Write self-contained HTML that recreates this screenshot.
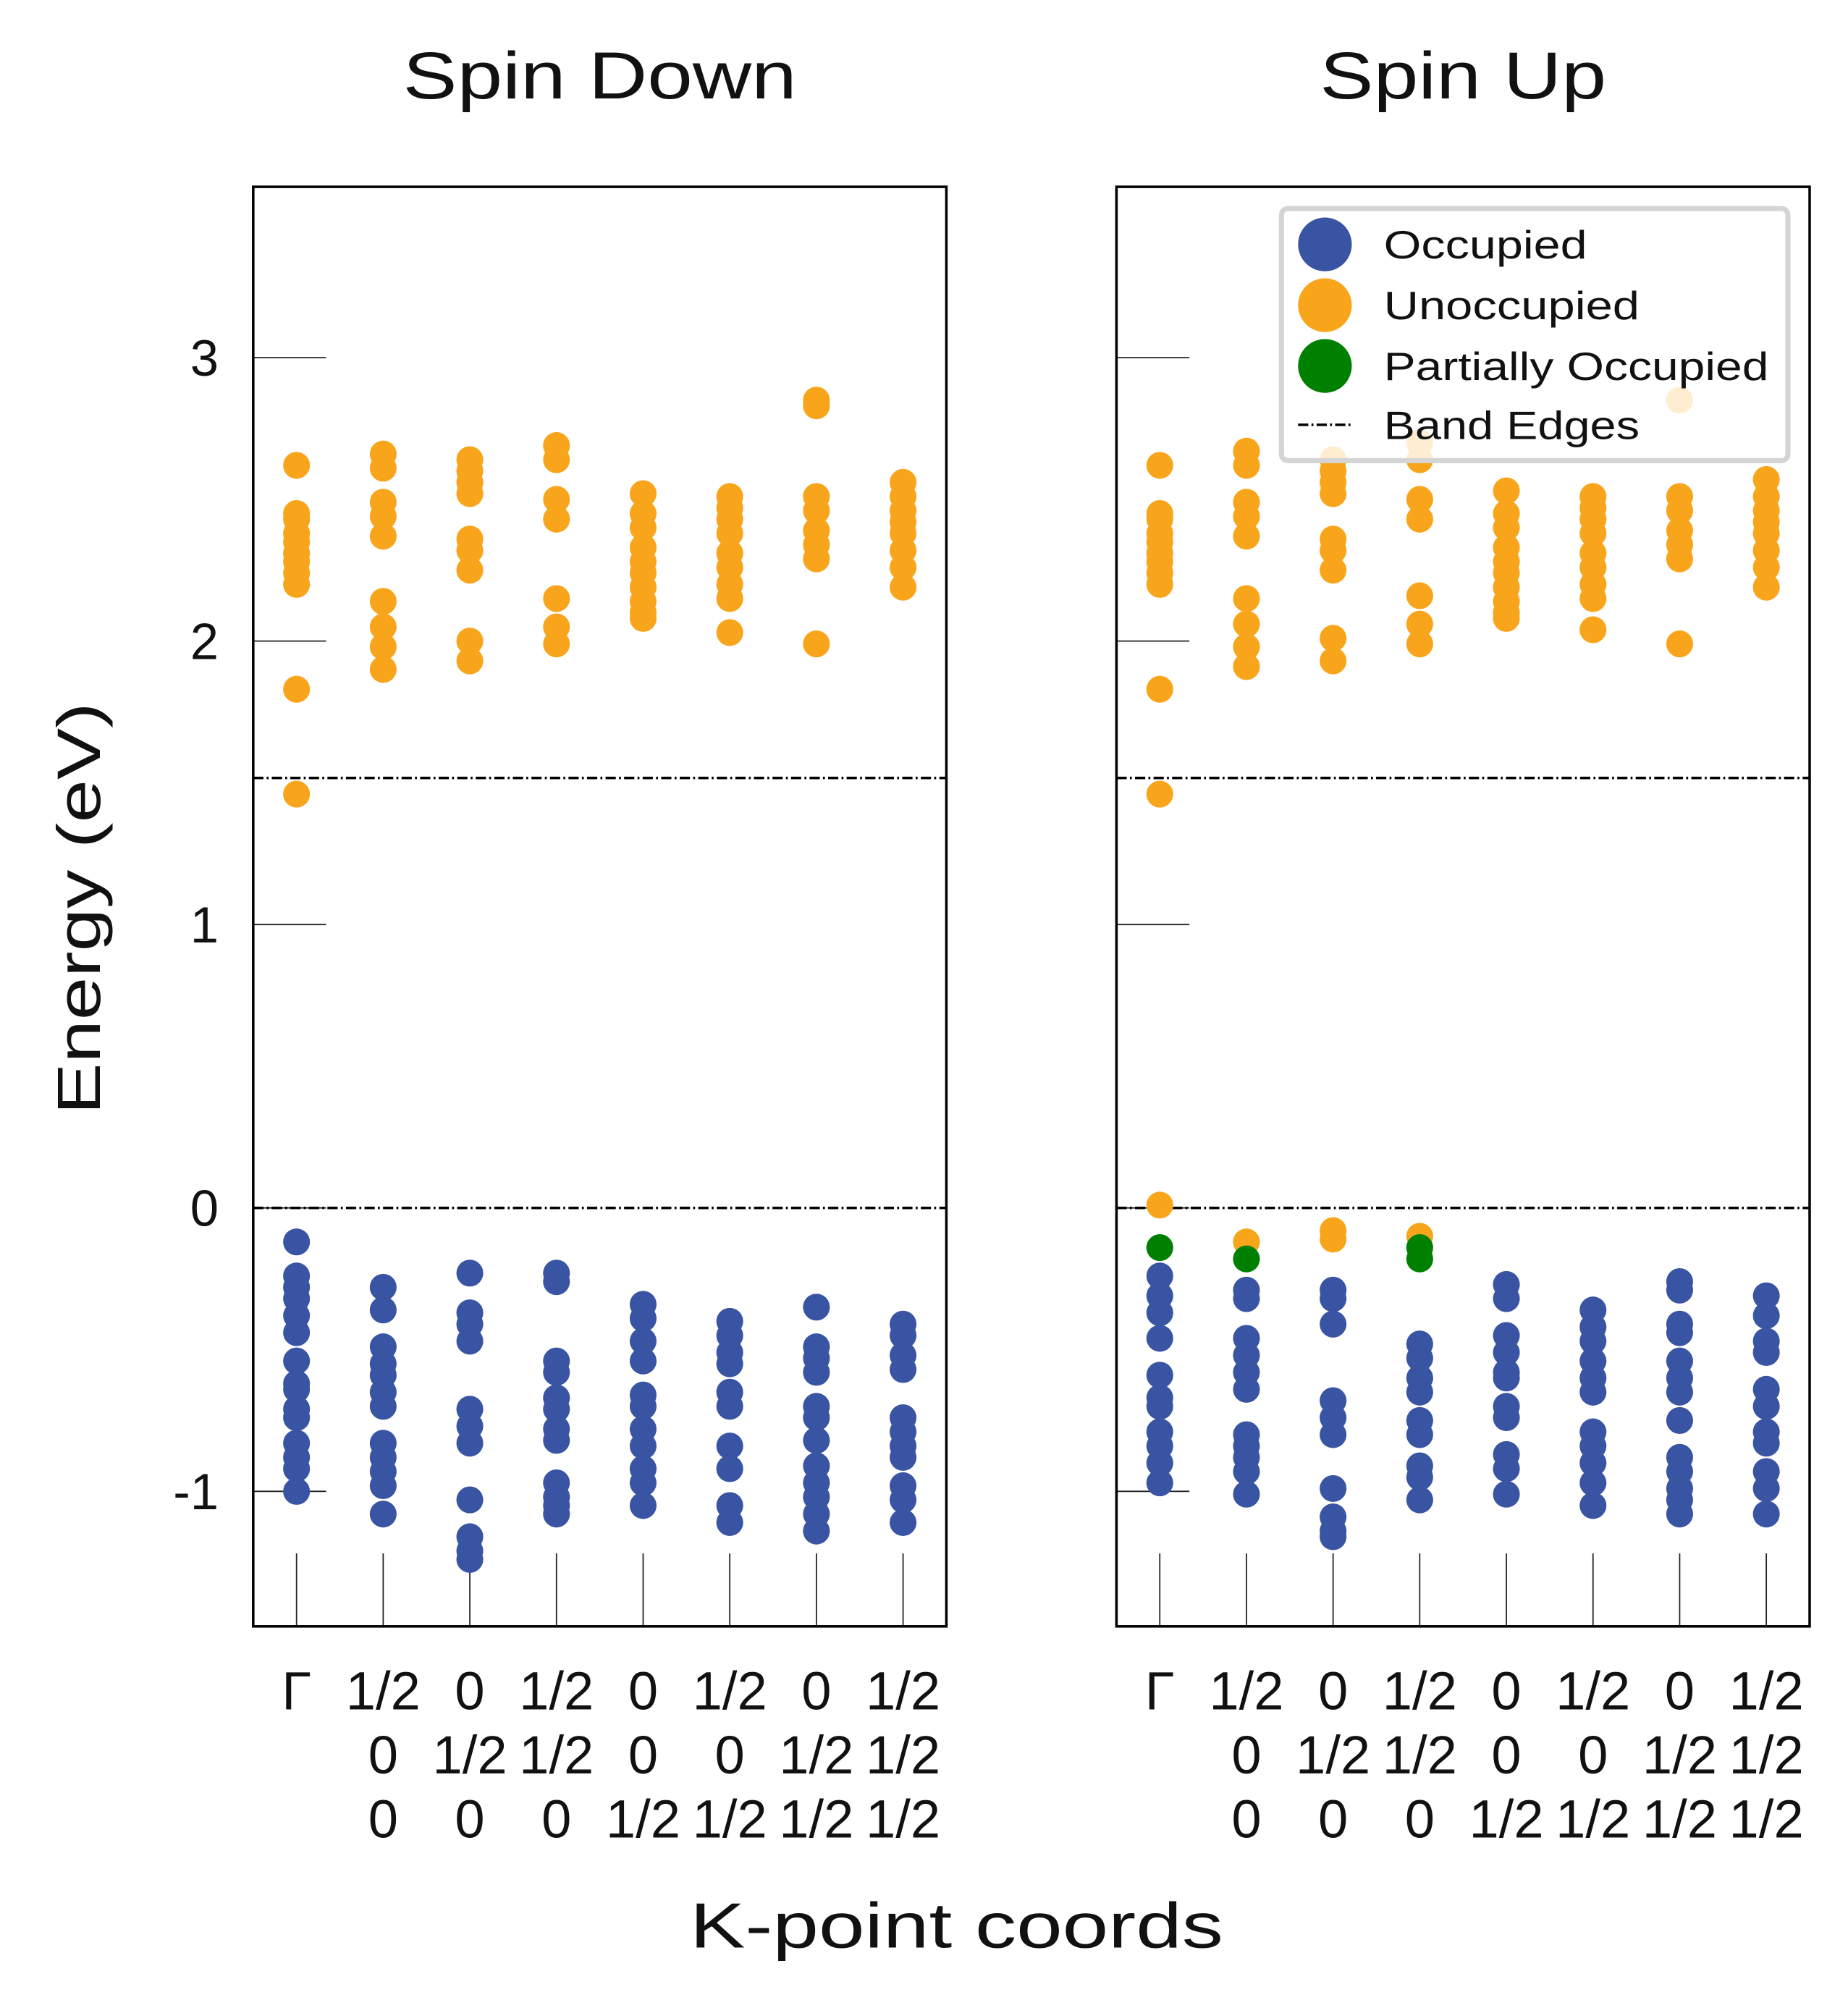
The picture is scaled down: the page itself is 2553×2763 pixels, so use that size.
<!DOCTYPE html>
<html><head><meta charset="utf-8">
<style>html,body{margin:0;padding:0;background:#fff}svg{display:block}text{font-family:"Liberation Sans",sans-serif;fill:#111}</style>
</head><body>
<svg id="chart" width="2553" height="2763" viewBox="0 0 1445 1563" preserveAspectRatio="none" xmlns="http://www.w3.org/2000/svg">
<g id="plots"></g>
<text x="0" y="0" transform="translate(78,710) rotate(-90)" text-anchor="middle" font-size="48" textLength="322" lengthAdjust="spacingAndGlyphs">Energy (eV)</text>
<text x="748" y="1522" text-anchor="middle" font-size="50" textLength="417" lengthAdjust="spacingAndGlyphs">K-point coords</text>
</svg>
<script>
const kLabels=[["Γ","",""],["1/2","0","0"],["0","1/2","0"],["1/2","1/2","0"],["0","0","1/2"],["1/2","0","1/2"],["0","1/2","1/2"],["1/2","1/2","1/2"]];
const yTicks=[-1,0,1,2,3];
const bandEdges=[0,1.517];
const downUnocc=[[2.62,2.45,2.43,2.38,2.35,2.31,2.28,2.24,2.20,1.83,1.46],[2.66,2.61,2.49,2.44,2.37,2.14,2.05,1.98,1.90],[2.64,2.60,2.56,2.52,2.36,2.32,2.25,2.00,1.93],[2.69,2.64,2.50,2.43,2.15,2.05,1.99],[2.52,2.45,2.40,2.33,2.28,2.24,2.19,2.14,2.10,2.08],[2.51,2.47,2.43,2.38,2.31,2.26,2.20,2.15,2.03],[2.85,2.83,2.51,2.46,2.39,2.34,2.29,1.99],[2.56,2.51,2.46,2.42,2.38,2.32,2.26,2.19]];
const downOcc=[[-0.12,-0.24,-0.28,-0.32,-0.38,-0.44,-0.54,-0.62,-0.64,-0.71,-0.74,-0.83,-0.88,-0.92,-1.0],[-0.28,-0.36,-0.49,-0.55,-0.59,-0.65,-0.70,-0.83,-0.88,-0.93,-0.98,-1.08],[-0.23,-0.37,-0.41,-0.47,-0.71,-0.77,-0.83,-1.03,-1.16,-1.21,-1.24],[-0.23,-0.26,-0.54,-0.58,-0.67,-0.71,-0.78,-0.82,-0.97,-1.02,-1.05,-1.08],[-0.34,-0.39,-0.47,-0.54,-0.66,-0.70,-0.78,-0.84,-0.92,-0.97,-1.05],[-0.40,-0.45,-0.51,-0.55,-0.65,-0.70,-0.84,-0.92,-1.05,-1.11],[-0.35,-0.49,-0.53,-0.58,-0.70,-0.74,-0.82,-0.91,-0.97,-1.02,-1.08,-1.14],[-0.41,-0.45,-0.52,-0.57,-0.74,-0.79,-0.84,-0.88,-0.98,-1.03,-1.11]];
const upUnocc=[[2.62,2.45,2.43,2.38,2.35,2.31,2.28,2.24,2.20,1.83,1.46,0.01],[2.67,2.62,2.49,2.44,2.37,2.15,2.06,1.98,1.91,-0.12],[2.64,2.60,2.56,2.52,2.36,2.32,2.25,2.01,1.93,-0.08,-0.11],[2.70,2.64,2.50,2.43,2.16,2.06,1.99,-0.10],[2.53,2.45,2.40,2.33,2.28,2.24,2.19,2.14,2.10,2.08],[2.51,2.47,2.43,2.38,2.31,2.26,2.20,2.15,2.04],[2.85,2.51,2.46,2.39,2.34,2.29,1.99],[2.57,2.51,2.46,2.42,2.38,2.32,2.26,2.19]];
const upPartial=[[-0.14],[-0.18],[],[-0.14,-0.18]];
const upOcc=[[-0.24,-0.31,-0.37,-0.46,-0.59,-0.67,-0.70,-0.79,-0.84,-0.90,-0.97],[-0.29,-0.32,-0.46,-0.52,-0.58,-0.64,-0.80,-0.84,-0.88,-0.93,-1.01],[-0.29,-0.32,-0.41,-0.68,-0.74,-0.80,-0.99,-1.09,-1.14,-1.16],[-0.48,-0.53,-0.60,-0.65,-0.75,-0.80,-0.91,-0.95,-1.03],[-0.27,-0.32,-0.45,-0.51,-0.58,-0.60,-0.70,-0.74,-0.87,-0.92,-1.01],[-0.36,-0.42,-0.47,-0.54,-0.60,-0.65,-0.79,-0.84,-0.90,-0.97,-1.05],[-0.26,-0.29,-0.41,-0.44,-0.54,-0.60,-0.65,-0.75,-0.88,-0.93,-0.99,-1.03,-1.08],[-0.31,-0.38,-0.47,-0.51,-0.64,-0.70,-0.79,-0.83,-0.93,-0.99,-1.08]];

const NS="http://www.w3.org/2000/svg";
const root=document.getElementById('plots');
function mk(tag,attrs,parent){const e=document.createElementNS(NS,tag);for(const k in attrs)e.setAttribute(k,attrs[k]);(parent||root).appendChild(e);return e;}
const topY=146,botY=1271,W=542;
function yS(v){return 944-v*221.5;}
function panel(x0,title,tLen,unocc,occ,partial,legend,name){
  const g=mk('g',{});
  
  
  const xS=i=>x0+(i+0.5)*W/8;
  const t=mk('text',{x:x0+W/2,y:77,'text-anchor':'middle','font-size':52,textLength:tLen,lengthAdjust:'spacingAndGlyphs'},g);t.textContent=title;
  
  
  yTicks.forEach(v=>{const l=mk('line',{x1:x0,x2:x0+57,y1:yS(v),y2:yS(v),stroke:'#222','stroke-width':1},g);
    
    
    if(x0<500){const tx=mk('text',{x:171,y:yS(v)+14,'text-anchor':'end','font-size':40},g);tx.textContent=String(v);
      
      }});
  kLabels.forEach((lab,i)=>{const l=mk('line',{x1:xS(i),x2:xS(i),y1:botY,y2:botY-57,stroke:'#222','stroke-width':1},g);
    
    
    lab.forEach((s,j)=>{if(!s)return;const tx=mk('text',{x:xS(i),y:1336+j*50,'text-anchor':'middle','font-size':42},g);tx.textContent=s;
      
      });});
  bandEdges.forEach(v=>{const l=mk('line',{x1:x0,x2:x0+W,y1:yS(v),y2:yS(v),stroke:'#000','stroke-width':2,'stroke-dasharray':'8 2.5 1.5 2.5'},g);
    
    });
  function dots(arr,col,nm){arr.forEach((vals,i)=>vals.forEach(v=>{const c=mk('circle',{cx:xS(i),cy:yS(v),r:10.5,fill:col},g);
    
    }));}
  dots(occ,'#3a54a4','occupied-point');
  dots(unocc,'#f9a51b','unoccupied-point');
  dots(partial,'#008000','partial-point');
  const fr=mk('rect',{x:x0,y:topY,width:W,height:botY-topY,fill:'none',stroke:'#000','stroke-width':2},g);
  
  
  if(legend){
    const lg=mk('g',{},g);
    
    
    mk('rect',{x:1002,y:163,width:396,height:197,rx:5,fill:'#fff','fill-opacity':0.8,stroke:'#d4d4d4','stroke-width':4},lg);
    const items=[['Occupied','#3a54a4',159],['Unoccupied','#f9a51b',200],['Partially Occupied','#008000',301]];
    items.forEach((it,k)=>{const y=191+k*47.5;
      const c=mk('circle',{cx:1036,cy:y,r:21,fill:it[1]},lg);
      
      
      const tx=mk('text',{x:1082,y:y+11,'font-size':31,textLength:it[2],lengthAdjust:'spacingAndGlyphs'},lg);tx.textContent=it[0];
      
      });
    const ll=mk('line',{x1:1015,x2:1057,y1:332,y2:332,stroke:'#000','stroke-width':2,'stroke-dasharray':'8 2.5 1.5 2.5'},lg);
    
    
    const tx=mk('text',{x:1082,y:343,'font-size':31,textLength:200,lengthAdjust:'spacingAndGlyphs'},lg);tx.textContent='Band Edges';
    
    
  }
}
panel(198,'Spin Down',308,downUnocc,downOcc,[],false,'spin-down-panel');
panel(873,'Spin Up',224,upUnocc,upOcc,upPartial,true,'spin-up-panel');
</script>
</body></html>
